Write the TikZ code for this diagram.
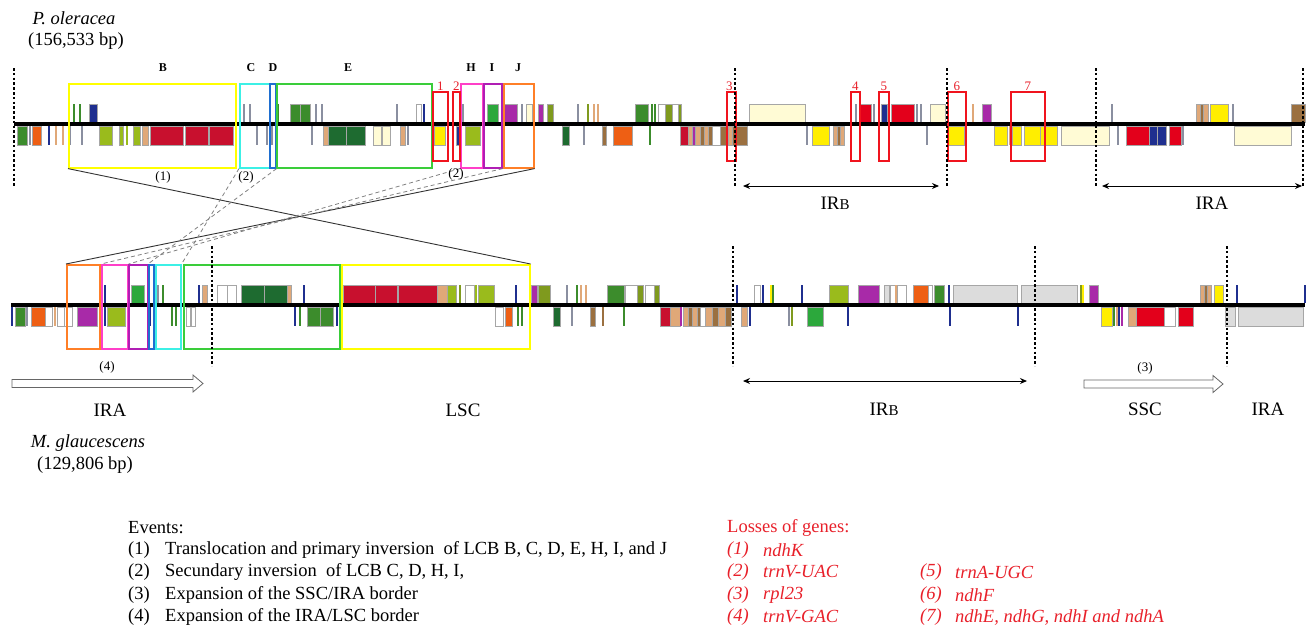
\documentclass[tikz,border=0pt]{standalone}
\usepackage{fontspec}
\setmainfont{Liberation Serif}
\usetikzlibrary{arrows.meta}
% gene colours
\definecolor{cDG}{HTML}{1E6B30}
\definecolor{cMG}{HTML}{3C8C2C}
\definecolor{cBG}{HTML}{2CA83C}
\definecolor{cYG}{HTML}{9ABB1C}
\definecolor{cOl}{HTML}{7F9A1E}
\definecolor{cRd}{HTML}{C8102E}
\definecolor{cRb}{HTML}{E3001B}
\definecolor{cOr}{HTML}{EE5F14}
\definecolor{cNv}{HTML}{1F2F8F}
\definecolor{cTn}{HTML}{E0A878}
\definecolor{cBr}{HTML}{9B7040}
\definecolor{cPu}{HTML}{A82AA8}
\definecolor{cYe}{HTML}{FFEE00}
\definecolor{cCr}{HTML}{FFFBD5}
\definecolor{cLg}{HTML}{DCDCDC}
\definecolor{cGy}{HTML}{8A8FA0}
% box colours
\definecolor{bYel}{HTML}{FFFF00}
\definecolor{bCy}{HTML}{3CF0E6}
\definecolor{bBl}{HTML}{1F6FD0}
\definecolor{bGr}{HTML}{3ACD3A}
\definecolor{bRd}{HTML}{F0141E}
\definecolor{bPk}{HTML}{FF3FC8}
\definecolor{bPu}{HTML}{B01EB4}
\definecolor{bOr}{HTML}{FF7F27}
\definecolor{tRd}{HTML}{E8202A}
\newcommand\trk[4]{\def\ua{#1}\def\ub{#2}\def\la{#3}\def\lb{#4}}
\newcommand\gU[1]{\foreach \a/\b/\c in {#1} {\filldraw[gb,fill=\c] (\a,\ua) rectangle (\b,\ub);}}
\newcommand\gL[1]{\foreach \a/\b/\c in {#1} {\filldraw[gb,fill=\c] (\a,\la) rectangle (\b,\lb);}}
\newcommand\tU[1]{\foreach \a/\c in {#1} {\draw[tl,\c] (\a,\ua) -- (\a,\ub);}}
\newcommand\tL[1]{\foreach \a/\c in {#1} {\draw[tl,\c] (\a,\la) -- (\a,\lb);}}
\begin{document}
\begin{tikzpicture}[x=1pt,y=-1pt,
  gb/.style={draw=black!35,line width=0.5pt},
  tl/.style={line width=1.3pt},
  lcb/.style={draw,line width=1.6pt,inner sep=0pt,anchor=north west,minimum height=84pt},
  lossbox/.style={draw=bRd,line width=1.6pt,inner sep=0pt,anchor=north west,minimum height=69pt},
  dots/.style={line width=2.6pt,dash pattern=on 2.6pt off 2.2pt},
  connS/.style={line width=0.9pt,black!80},
  connD/.style={line width=0.8pt,gray,dash pattern=on 4pt off 3pt},
  genome/.style={line width=4pt},
  blab/.style={font=\fontsize{12}{14}\selectfont\bfseries,inner sep=0pt},
  rlab/.style={font=\fontsize{13}{14}\selectfont,text=tRd,inner sep=0pt},
  evlab/.style={font=\fontsize{13}{14}\selectfont,inner sep=0pt},
  region/.style={font=\fontsize{19}{22}\selectfont,inner sep=0pt},
  txt/.style={font=\fontsize{18.5}{22}\selectfont,inner sep=0pt,anchor=west},
  rtxt/.style={font=\fontsize{18.5}{22}\selectfont\itshape,text=tRd,inner sep=0pt,anchor=west},
  hollow/.style={fill=white,draw=black!60,line width=0.8pt},
  dbl/.style={{Stealth[length=7pt,width=6pt]}-{Stealth[length=7pt,width=6pt]},line width=1pt}]
\useasboundingbox (0,0) rectangle (1309,630);

% ---------------- top genome: P. oleracea ----------------
\trk{104}{122}{126}{145}
\gL{17/27/cMG, 32/41/cOr, 99/112/cYG, 119/123/cYG, 133/140/cYG, 142/148/cTn, 150/183/cRd, 185/208/cRd, 209/233/cRd, 323/328/cTn, 328/346/cDG, 346/365/cDG, 373/381/cCr, 382/390/cCr, 400/405/cTn, 434/445/cYe, 456/459/cNv, 465/480/cYG, 562/569/cDG, 602/606/cBr, 613/632/cOr, 680/688/cRd, 688/692/cTn, 692/695/cPu, 695/700/cTn, 700/704/cBr, 704/708/cTn, 708/712/cBr, 712/720/white, 720/728/cBr, 728/732/cTn, 732/747/cBr, 812/829/cYe, 833/837/cTn, 837/840/cBr, 840/844/cTn, 947/964/cYe, 994/1007/cYe, 1012/1021/cYe, 1024/1040/cYe, 1040/1057/cYe, 1061/1109/cCr, 1126/1149/cRb, 1149/1157/cNv, 1157/1166/cNv, 1169/1181/cRb, 1234/1291/cCr}
\tL{30/cGy, 49/cNv, 56/cTn, 63/cTn, 70/cGy, 82/cGy, 127/cYG, 257/cGy, 267/cGy, 272/cGy, 312/cGy, 408/cGy, 584/cGy, 650/cMG, 807/cGy, 927/cGy, 1010/cTn, 1118/cGy, 1183/cGy}
\gU{89/97/cNv, 290/300/cMG, 300/310/cMG, 416/421/white, 487/498/cBG, 504/517/cPu, 526/532/cCr, 538/543/cPu, 547/553/cOl, 635/648/cMG, 658/665/white, 665/672/cOl, 672/678/white, 678/681/cOl, 749/805/cCr, 859/871/cRb, 881/887/cNv, 891/914/cRb, 930/945/cCr, 982/991/cPu, 1196/1200/cTn, 1200/1203/cBr, 1203/1208/cTn, 1210/1228/cYe, 1291/1305/cBr}
\tU{74/cMG, 80/cMG, 244/cGy, 250/cGy, 278/cMG, 316/cGy, 322/cGy, 397/cGy, 424/cNv, 463/cGy, 522/cGy, 578/cGy, 588/cOl, 594/cTn, 598/cTn, 652/cMG, 655/cMG, 856/cGy, 874/cGy, 917/cGy, 921/cGy, 973/cTn, 1112/cGy, 1233/cGy}
\coordinate (tL) at (14,124);
\coordinate (tR) at (1305,124);
\draw[genome] (tL) -- (tR);

% ---------------- bottom genome: M. glaucescens ----------------
\trk{285}{303}{307}{326}
\gU{131/144/cBG, 202/207/cTn, 217/227/white, 227/236/white, 241/264/cDG, 264/287/cDG, 287/291/cTn, 343/375/cRd, 375/397/cRd, 398/437/cRd, 437/447/cTn, 447/456/cYG, 465/474/white, 478/494/cYG, 531/537/cPu, 538/550/cOl, 607/624/cMG, 625/637/white, 637/643/cOl, 645/654/white, 654/659/cOl, 754/760/white, 829/848/cYG, 858/879/cPu, 884/889/cLg, 890/895/white, 897/906/white, 913/928/cOr, 928/932/white, 934/944/cMG, 953/1017/cLg, 1021/1077/cLg, 1089/1098/cPu, 1200/1204/cTn, 1204/1207/cBr, 1207/1211/cTn, 1214/1223/cYe}
\tU{105/cNv, 158/cGy, 163/cMG, 199/cNv, 304/cNv, 460/cOl, 476/cYG, 516/cNv, 567/cGy, 577/cMG, 581/cTn, 586/cTn, 737/cNv, 763/cNv, 771/cYe, 773/cMG, 802/cNv, 896/cTn, 949/cNv, 1081/cOl, 1083/cYe, 1237/cNv, 1305/cNv}
\gL{15/25/cMG, 31/45/cOr, 45/52/white, 57/64/white, 64/72/white, 77/97/cPu, 107/125/cYG, 186/190/white, 191/195/white, 307/320/cMG, 320/333/cMG, 495/503/white, 505/512/cOr, 553/560/cDG, 590/595/cBr, 660/670/cRd, 670/680/cTn, 683/688/cTn, 688/692/cBr, 692/697/cTn, 697/700/cBr, 700/705/white, 705/712/cTn, 712/718/cBr, 718/725/cTn, 725/731/cBr, 741/747/cTn, 807/823/cBG, 1101/1112/cYe, 1128/1136/cTn, 1136/1164/cRb, 1164/1175/white, 1178/1193/cRb, 1225/1235/cLg, 1238/1303/cLg}
\tL{12/cNv, 27/cGy, 55/cTn, 105/cNv, 150/cNv, 172/cMG, 176/cMG, 295/cNv, 300/cMG, 337/cNv, 518/cMG, 522/cMG, 572/cGy, 603/cBr, 624/cMG, 681/cPu, 750/cNv, 789/cGy, 792/cOl, 848/cNv, 950/cNv, 1018/cNv, 1114/cMG, 1117/cTn, 1119/cNv, 1122/cPu}
\coordinate (bL) at (11,305);
\coordinate (bR) at (1305,305);
\draw[genome] (bL) -- (bR);

% ---------------- LCB boxes, top ----------------
\node[lcb,draw=bYel,minimum width=167pt] (B) at (68,83) {};
\node[lcb,draw=bCy,minimum width=30pt] (C) at (239,83) {};
\node[lcb,draw=bBl,minimum width=6pt] (D) at (269,83) {};
\node[lcb,draw=bGr,minimum width=155pt] (E) at (276,83) {};
\node[lcb,draw=bPk,minimum width=22pt] (H) at (460,83) {};
\node[lcb,draw=bPu,minimum width=18pt] (I) at (483,83) {};
\node[lcb,draw=bOr,minimum width=30pt] (J) at (503,83) {};
\node[blab] (lB) at (163,68) {B};
\node[blab] (lC) at (251,68) {C};
\node[blab] (lD) at (273,68) {D};
\node[blab] (lE) at (348,68) {E};
\node[blab] (lH) at (471,68) {H};
\node[blab] (lI) at (492,68) {I};
\node[blab] (lJ) at (518,68) {J};

% gene-loss boxes
\node[lossbox,minimum width=15pt] (r1) at (432,91) {};
\node[lossbox,minimum width=7pt] (r2) at (452,91) {};
\node[lossbox,minimum width=9pt] (r3) at (726,91) {};
\node[lossbox,minimum width=9pt] (r4) at (850,91) {};
\node[lossbox,minimum width=10pt] (r5) at (878,91) {};
\node[lossbox,minimum width=18pt] (r6) at (947,91) {};
\node[lossbox,minimum width=34pt] (r7) at (1010,91) {};
\node[rlab,anchor=south] (n1) at (r1.north) {1};
\node[rlab,anchor=south] (n2) at (r2.north) {2};
\node[rlab,anchor=south] (n3) at ([xshift=-2pt]r3.north) {3};
\node[rlab,anchor=south] (n4) at (r4.north) {4};
\node[rlab,anchor=south] (n5) at (r5.north) {5};
\node[rlab,anchor=south] (n6) at (r6.north) {6};
\node[rlab,anchor=south] (n7) at (r7.north) {7};

% ---------------- LCB boxes, bottom ----------------
\node[lcb,draw=bOr,minimum width=33pt] (Jb) at (66,264) {};
\node[lcb,draw=bPk,minimum width=26pt] (Hb) at (101,264) {};
\node[lcb,draw=bPu,minimum width=19pt] (Ib) at (128,264) {};
\node[lcb,draw=bBl,minimum width=5pt] (Db) at (148,264) {};
\node[lcb,draw=bCy,minimum width=25pt] (Cb) at (155,264) {};
\node[lcb,draw=bGr,minimum width=156pt] (Eb) at (183,264) {};
\node[lcb,draw=bYel,minimum width=188pt] (Bb) at (341,264) {};

% ---------------- connectors ----------------
\draw[connS] (B.south west) -- (Bb.north east);
\draw[connS] (J.south east) -- (Jb.north west);
\draw[connD] (C.south west) -- (Cb.north east);
\draw[connD] (D.south east) -- (Db.north west);
\draw[connD] (H.south west) -- (Hb.north east);
\draw[connD] (I.south east) -- (Hb.north west);
\node[evlab] (e1) at (163,177) {(1)};
\node[evlab] (e2a) at (246,177) {(2)};
\node[evlab] (e2b) at (456,174) {(2)};

% ---------------- borders ----------------
\foreach \x/\n in {14/a,735/b,947/c,1096/d,1303/e} {
  \coordinate (td\n1) at (\x,68);
  \coordinate (td\n2) at (\x,186);
  \draw[dots] (td\n1) -- (td\n2);
}
\foreach \x/\n in {212/a,733/b,1035/c,1227/d} {
  \coordinate (bd\n1) at (\x,246);
  \coordinate (bd\n2) at (\x,366);
  \draw[dots] (bd\n1) -- (bd\n2);
}
\coordinate (irb1) at (743,186);
\coordinate (irb2) at (939,186);
\coordinate (ira1) at (1102,186);
\coordinate (ira2) at (1302,186);
\draw[dbl] (irb1) -- (irb2);
\draw[dbl] (ira1) -- (ira2);
\node[region] (tIRB) at (835,203) {IR{\fontsize{15}{15}\selectfont B}};
\node[region] (tIRA) at (1212,203) {IRA};

\coordinate (birb1) at (743,381);
\coordinate (birb2) at (1027,381);
\draw[dbl] (birb1) -- (birb2);
\draw[hollow] (12,379.5) -- (193,379.5) -- (193,375) -- (203,383.5) -- (193,392) -- (193,387.5) -- (12,387.5) -- cycle;
\draw[hollow] (1084,380) -- (1213,380) -- (1213,375.5) -- (1223,384) -- (1213,392.5) -- (1213,388) -- (1084,388) -- cycle;
\node[evlab] (e4) at (107,367) {(4)};
\node[evlab] (e3) at (1145,368) {(3)};
\node[region] (bIRA1) at (110,410) {IRA};
\node[region] (bLSC) at (463,410) {LSC};
\node[region] (bIRB) at (884,409) {IR{\fontsize{15}{15}\selectfont B}};
\node[region] (bSSC) at (1145,409) {SSC};
\node[region] (bIRA2) at (1268,409) {IRA};

% ---------------- titles ----------------
\node[font=\fontsize{18.5}{22}\selectfont\itshape,inner sep=0pt] (po) at (74,18) {P. oleracea};
\node[font=\fontsize{18.5}{22}\selectfont,inner sep=0pt] (pob) at (76,41) {(156,533 bp)};
\node[font=\fontsize{18.5}{22}\selectfont\itshape,inner sep=0pt] (mg) at (88,443) {M. glaucescens};
\node[font=\fontsize{18.5}{22}\selectfont,inner sep=0pt] (mgb) at (85,465) {(129,806 bp)};

% ---------------- legend ----------------
\node[txt] (ev) at (128,528) {Events:};
\node[txt] (ev1n) at (128,550) {(1)};
\node[txt] (ev1) at (165,550) {Translocation and primary inversion\ \ of LCB B, C, D, E, H, I, and J};
\node[txt] (ev2n) at (128,572) {(2)};
\node[txt] (ev2) at (165,572) {Secundary inversion\ \ of LCB C, D, H, I,};
\node[txt] (ev3n) at (128,595) {(3)};
\node[txt] (ev3) at (165,595) {Expansion of the SSC/IRA border};
\node[txt] (ev4n) at (128,617) {(4)};
\node[txt] (ev4) at (165,617) {Expansion of the IRA/LSC border};

\node[txt,text=tRd] (lg) at (727,528) {Losses of genes:};
\node[rtxt] (l1n) at (727,550) {(1)};
\node[rtxt] (l1) at (763,550) {ndhK};
\node[rtxt] (l2n) at (727,572) {(2)};
\node[rtxt] (l2) at (763,572) {trnV-UAC};
\node[rtxt] (l3n) at (727,595) {(3)};
\node[rtxt] (l3) at (763,595) {rpl23};
\node[rtxt] (l4n) at (727,617) {(4)};
\node[rtxt] (l4) at (763,617) {trnV-GAC};
\node[rtxt] (l5n) at (920,572) {(5)};
\node[rtxt] (l5) at (955,572) {trnA-UGC};
\node[rtxt] (l6n) at (920,595) {(6)};
\node[rtxt] (l6) at (955,595) {ndhF};
\node[rtxt] (l7n) at (920,617) {(7)};
\node[rtxt] (l7) at (955,617) {ndhE, ndhG, ndhI and ndhA};
\end{tikzpicture}
\end{document}
